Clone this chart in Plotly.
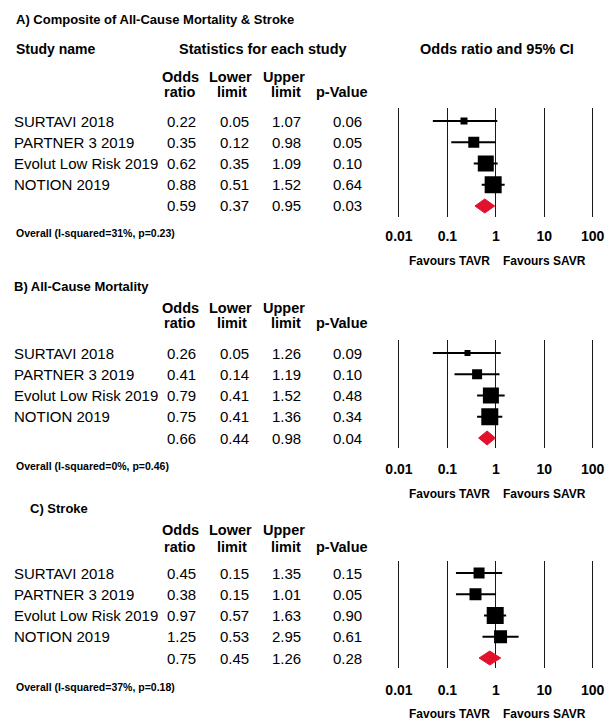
import plotly.graph_objects as go

W, H = 616, 722

studies = ["SURTAVI 2018", "PARTNER 3 2019", "Evolut Low Risk 2019", "NOTION 2019"]

a_or = [0.22, 0.35, 0.62, 0.88]
a_lo = [0.05, 0.12, 0.35, 0.51]
a_hi = [1.07, 0.98, 1.09, 1.52]
a_p = [0.06, 0.05, 0.10, 0.64]
a_sum = [0.59, 0.37, 0.95, 0.03]
a_het = "Overall (I-squared=31%, p=0.23)"
a_title = "A) Composite of All-Cause Mortality & Stroke"

b_or = [0.26, 0.41, 0.79, 0.75]
b_lo = [0.05, 0.14, 0.41, 0.41]
b_hi = [1.26, 1.19, 1.52, 1.36]
b_p = [0.09, 0.10, 0.48, 0.34]
b_sum = [0.66, 0.44, 0.98, 0.04]
b_het = "Overall (I-squared=0%, p=0.46)"
b_title = "B) All-Cause Mortality"

c_or = [0.45, 0.38, 0.97, 1.25]
c_lo = [0.15, 0.15, 0.57, 0.53]
c_hi = [1.35, 1.01, 1.63, 2.95]
c_p = [0.15, 0.05, 0.90, 0.61]
c_sum = [0.75, 0.45, 1.26, 0.28]
c_het = "Overall (I-squared=37%, p=0.18)"
c_title = "C) Stroke"

tick_vals = [0.01, 0.1, 1, 10, 100]
tick_text = ["0.01", "0.1", "1", "10", "100"]

# marker sizes (study weights, visual)
sizes = [[7, 11, 16, 17], [6, 10, 16, 17], [11, 12, 17, 13]]

panels = [
    dict(orv=a_or, lo=a_lo, hi=a_hi, p=a_p, s=a_sum, het=a_het, title=a_title, tx=14,
         ty=20, head=49, odds=77, ratio=92, row0=121, top=108, bot=217, tick=233, fav=261),
    dict(orv=b_or, lo=b_lo, hi=b_hi, p=b_p, s=b_sum, het=b_het, title=b_title, tx=12,
         ty=286, head=None, odds=308, ratio=323, row0=353, top=340, bot=448, tick=466, fav=494),
    dict(orv=c_or, lo=c_lo, hi=c_hi, p=c_p, s=c_sum, het=c_het, title=c_title, tx=28,
         ty=508, head=None, odds=530, ratio=547, row0=573, top=561, bot=668, tick=687, fav=714),
]

STEP = 21.25
FONT = "Liberation Sans, Arial, sans-serif"
RED = "#e3122c"

def py(v):
    return 1 - v / H

def px(v):
    return v / W

fig = go.Figure()
ann = []

# x domain: 0.01 at 399px, 100 at 592.7px, range padded by 0.1 decade
dec = (592.7 - 399) / 4
x0 = 399 - 0.1 * dec
x1 = 592.7 + 0.1 * dec

def text(x, y, t, size=15, bold=False, anchor="left"):
    ann.append(dict(x=px(x), y=py(y), xref="paper", yref="paper", text=t,
                    showarrow=False, xanchor=anchor, yanchor="middle",
                    font=dict(family=FONT, size=size, color="black",
                              weight="bold" if bold else "normal")))

for k, pn in enumerate(panels):
    sfx = "" if k == 0 else str(k + 1)
    xa, ya = "x" + sfx, "y" + sfx
    n = len(studies)
    rows = list(range(n))
    # CI lines
    lx, ly = [], []
    for i in rows:
        lx += [pn["lo"][i], pn["hi"][i], None]
        ly += [i, i, None]
    fig.add_trace(go.Scatter(x=lx, y=ly, mode="lines", line=dict(color="black", width=2),
                             xaxis=xa, yaxis=ya, showlegend=False, hoverinfo="skip"))
    fig.add_trace(go.Scatter(x=pn["orv"], y=rows, mode="markers", opacity=1,
                             marker=dict(symbol="square", color="#000000", size=sizes[k],
                                         opacity=1, line=dict(width=0)),
                             xaxis=xa, yaxis=ya, showlegend=False))
    est, slo, shi, sp = pn["s"]
    dh = 0.33
    fig.add_trace(go.Scatter(x=[slo, est, shi, est, slo], y=[n, n - dh, n, n + dh, n],
                             mode="lines", fill="toself", fillcolor=RED,
                             line=dict(color=RED, width=1),
                             xaxis=xa, yaxis=ya, showlegend=False))
    top_i = (pn["top"] - pn["row0"]) / STEP
    bot_i = (pn["bot"] - pn["row0"]) / STEP
    fig.layout["xaxis" + sfx] = dict(
        type="log", range=[-2.1, 2.1], domain=[px(x0), px(x1)], anchor=ya,
        tickvals=tick_vals, ticktext=tick_text, showgrid=True, gridcolor="#1a1a1a",
        gridwidth=1.3, zeroline=False, showline=False, ticks="outside",
        ticklen=pn["tick"] - pn["bot"] - 10, automargin=False,
        tickcolor="rgba(0,0,0,0)", tickfont=dict(family=FONT, size=14, color="black",
                                                weight="bold"))
    fig.layout["yaxis" + sfx] = dict(
        range=[bot_i, top_i], domain=[py(pn["bot"]), py(pn["top"])], anchor=xa,
        showgrid=False, zeroline=False, showticklabels=False, showline=False,
        automargin=False)

    text(pn["tx"], pn["ty"], pn["title"], size=13, bold=True)
    if pn["head"]:
        text(14, pn["head"], "Study name", size=14, bold=True)
        text(263, pn["head"], "Statistics for each study", size=14.5, bold=True, anchor="center")
        text(497, pn["head"], "Odds ratio and 95% CI", size=14.5, bold=True, anchor="center")
    for hx, h1, h2 in [(180, "Odds", "ratio"), (230, "Lower", "limit"),
                       (284, "Upper", "limit"), (342, "", "p-Value")]:
        if h1:
            text(hx, pn["odds"], h1, size=14.5, bold=True, anchor="center")
        text(hx + (2 if h2 == "limit" else 0), pn["ratio"], h2, size=14.5, bold=True,
             anchor="center")
    for i in rows:
        y = pn["row0"] + STEP * i
        text(12, y, studies[i])
        text(198, y, f"{pn['orv'][i]:.2f}", anchor="right")
        text(251, y, f"{pn['lo'][i]:.2f}", anchor="right")
        text(303, y, f"{pn['hi'][i]:.2f}", anchor="right")
        text(364, y, f"{pn['p'][i]:.2f}", anchor="right")
    y = pn["row0"] + STEP * n
    text(198, y, f"{est:.2f}", anchor="right")
    text(251, y, f"{slo:.2f}", anchor="right")
    text(303, y, f"{shi:.2f}", anchor="right")
    text(364, y, f"{sp:.2f}", anchor="right")
    text(14, pn["tick"], pn["het"], size=10.5, bold=True)
    text(449, pn["fav"], "Favours TAVR", size=12, bold=True, anchor="center")
    text(544, pn["fav"], "Favours SAVR", size=12, bold=True, anchor="center")

fig.update_layout(width=W, height=H, margin=dict(l=0, r=0, t=0, b=0, autoexpand=False),
                  paper_bgcolor="white", plot_bgcolor="white", annotations=ann,
                  font=dict(family=FONT))
fig.write_html("out.html", config={"displayModeBar": False},
               post_script="document.body.style.margin='0px';"
                           "document.body.style.overflow='hidden';")
